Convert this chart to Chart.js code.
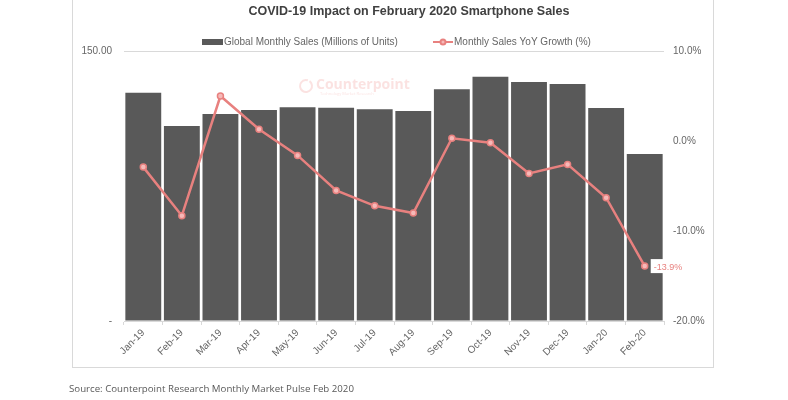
<!DOCTYPE html>
<html>
<head>
<meta charset="utf-8">
<title>COVID-19 Impact on February 2020 Smartphone Sales</title>
<script src="https://cdn.jsdelivr.net/npm/chart.js@4/dist/chart.umd.min.js"></script>
<style>
  html, body { margin: 0; padding: 0; background: #fff; }
  #chart { display: block; }
</style>
</head>
<body>
<canvas id="chart" width="788" height="400"></canvas>
<script>
// Chart data
const months = ['Jan-19', 'Feb-19', 'Mar-19', 'Apr-19', 'May-19', 'Jun-19', 'Jul-19', 'Aug-19', 'Sep-19', 'Oct-19', 'Nov-19', 'Dec-19', 'Jan-20', 'Feb-20'];
const monthlySales = [126.8, 108.3, 115.0, 117.2, 118.7, 118.5, 117.6, 116.7, 128.7, 135.7, 132.8, 131.7, 118.3, 92.8];
const yoyGrowth = [-2.9, -8.3, 5.0, 1.3, -1.6, -5.5, -7.2, -8.0, 0.3, -0.2, -3.6, -2.6, -6.3, -13.9];
const salesTicks = [0, 150];
const growthTicks = [-20, -10, 0, 10];

const chartTitle = 'COVID-19 Impact on February 2020 Smartphone Sales';
const sourceNote = 'Source: Counterpoint Research Monthly Market Pulse Feb 2020';

const BAR_COLOR = '#595959';
const LINE_COLOR = '#e8817f';
const TEXT_COLOR = '#666666';
const FRAME_COLOR = '#d9d9d9';

// Frame, title, legend, watermark and source note
const decorPlugin = {
  id: 'decor',
  beforeDraw(chart) {
    const ctx = chart.ctx;
    ctx.save();
    ctx.fillStyle = '#fff';
    ctx.fillRect(0, 0, chart.width, chart.height);
    ctx.strokeStyle = FRAME_COLOR;
    ctx.lineWidth = 1;
    ctx.strokeRect(72.5, -2, 641, 369.5);

    // title
    ctx.fillStyle = '#404040';
    ctx.font = 'bold 12.5px "Liberation Sans", Arial, sans-serif';
    ctx.textAlign = 'center';
    ctx.textBaseline = 'middle';
    ctx.fillText(chartTitle, 409, 12);

    // legend
    const ds = chart.data.datasets;
    ctx.font = '10px "Liberation Sans", Arial, sans-serif';
    ctx.textAlign = 'left';
    ctx.fillStyle = BAR_COLOR;
    ctx.fillRect(202, 39, 21, 6);
    ctx.fillStyle = TEXT_COLOR;
    ctx.fillText(ds[1].label, 224, 42);
    ctx.strokeStyle = LINE_COLOR;
    ctx.lineWidth = 2;
    ctx.beginPath();
    ctx.moveTo(433, 42);
    ctx.lineTo(453, 42);
    ctx.stroke();
    ctx.beginPath();
    ctx.arc(443, 42, 2.5, 0, Math.PI * 2);
    ctx.fillStyle = '#f6b9b8';
    ctx.fill();
    ctx.stroke();
    ctx.fillStyle = TEXT_COLOR;
    ctx.fillText(ds[0].label, 454, 42);

    // faint watermark
    ctx.globalAlpha = 0.25;
    ctx.strokeStyle = '#ee8a86';
    ctx.lineWidth = 2;
    ctx.beginPath();
    ctx.arc(306, 86, 6, -Math.PI * 0.3, Math.PI * 1.6);
    ctx.stroke();
    ctx.fillStyle = '#ee8a86';
    ctx.font = 'bold 14px "Open Sans", sans-serif';
    ctx.fillText('Counterpoint', 316, 85);
    ctx.font = '4px "Open Sans", sans-serif';
    ctx.fillText('Technology Market Research', 320, 94);
    ctx.globalAlpha = 1;

    // source
    ctx.fillStyle = '#595959';
    ctx.font = '9.7px "Open Sans", sans-serif';
    ctx.fillText(sourceNote, 69, 389);
    ctx.restore();
  },
  afterDatasetsDraw(chart) {
    // data label on the last point
    const meta = chart.getDatasetMeta(0);
    const last = meta.data[meta.data.length - 1];
    const value = yoyGrowth[yoyGrowth.length - 1];
    const ctx = chart.ctx;
    ctx.save();
    ctx.font = '9px "Liberation Sans", Arial, sans-serif';
    const text = value.toFixed(1) + '%';
    const w = ctx.measureText(text).width;
    ctx.fillStyle = '#fff';
    ctx.fillRect(last.x + 6, last.y - 7, w + 6, 14);
    ctx.fillStyle = LINE_COLOR;
    ctx.textBaseline = 'middle';
    ctx.fillText(text, last.x + 9, last.y + 1);
    ctx.restore();
  }
};

new Chart(document.getElementById('chart'), {
  type: 'bar',
  data: {
    labels: months,
    datasets: [
      {
        type: 'line',
        label: 'Monthly Sales YoY Growth (%)',
        data: yoyGrowth,
        yAxisID: 'y1',
        borderColor: LINE_COLOR,
        backgroundColor: '#f6b9b8',
        borderWidth: 2.5,
        pointRadius: 3,
        pointBorderWidth: 1.5,
        pointBorderColor: LINE_COLOR,
        pointBackgroundColor: '#f6b9b8',
        tension: 0,
        order: 1
      },
      {
        type: 'bar',
        label: 'Global Monthly Sales (Millions of Units)',
        data: monthlySales,
        yAxisID: 'y',
        backgroundColor: BAR_COLOR,
        categoryPercentage: 1,
        barPercentage: 0.93,
        order: 2
      }
    ]
  },
  options: {
    responsive: false,
    animation: false,
    layout: { padding: { left: 72, right: 74, top: 51, bottom: 33 } },
    plugins: {
      legend: { display: false },
      title: { display: false },
      tooltip: { enabled: false }
    },
    scales: {
      x: {
        offset: true,
        grid: {
          offset: true,
          drawOnChartArea: false,
          drawTicks: true,
          tickLength: 4,
          color: FRAME_COLOR
        },
        border: { color: FRAME_COLOR },
        ticks: {
          autoSkip: false,
          minRotation: 45,
          maxRotation: 45,
          padding: 2,
          color: TEXT_COLOR,
          font: { family: '"Liberation Sans", Arial, sans-serif', size: 10 }
        },
        afterFit(scale) { scale.height = 46; }
      },
      y: {
        position: 'left',
        min: salesTicks[0],
        max: salesTicks[salesTicks.length - 1],
        afterBuildTicks(scale) { scale.ticks = salesTicks.map(v => ({ value: v })); },
        grid: {
          drawTicks: false,
          color: ctx => ctx.tick && ctx.tick.value === 150 ? FRAME_COLOR : 'rgba(0,0,0,0)'
        },
        border: { display: false },
        ticks: {
          padding: 12,
          color: TEXT_COLOR,
          font: { family: '"Liberation Sans", Arial, sans-serif', size: 10 },
          callback: v => v === 0 ? '-' : v.toFixed(2)
        },
        afterFit(scale) { scale.width = 52; }
      },
      y1: {
        position: 'right',
        min: growthTicks[0],
        max: growthTicks[growthTicks.length - 1],
        afterBuildTicks(scale) { scale.ticks = growthTicks.map(v => ({ value: v })); },
        grid: { display: false, drawTicks: false },
        border: { display: false },
        ticks: {
          padding: 9,
          color: TEXT_COLOR,
          font: { family: '"Liberation Sans", Arial, sans-serif', size: 10 },
          callback: v => v.toFixed(1) + '%'
        },
        afterFit(scale) { scale.width = 50; }
      }
    }
  },
  plugins: [decorPlugin]
});
</script>
</body>
</html>
